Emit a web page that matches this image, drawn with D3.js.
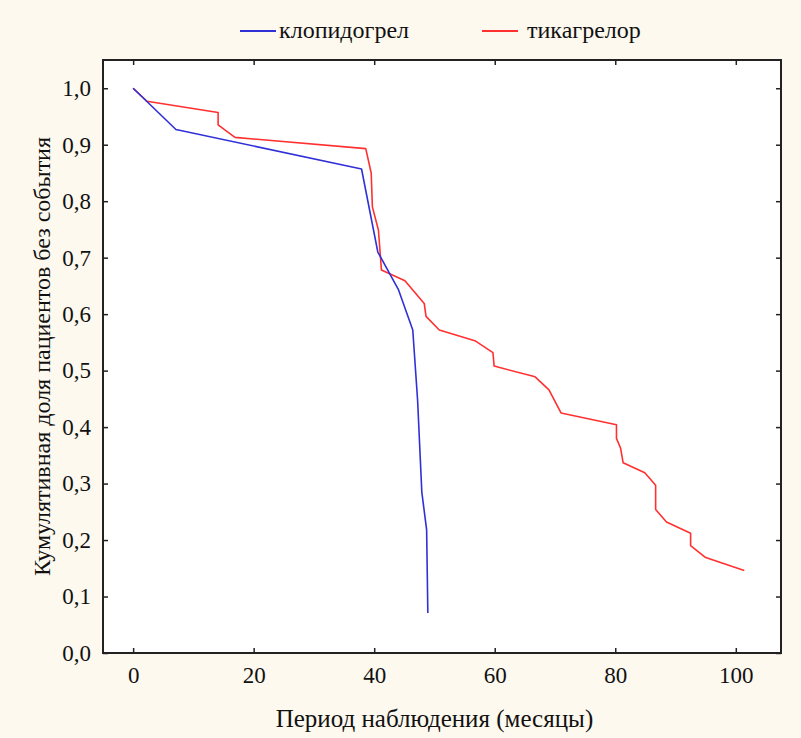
<!DOCTYPE html>
<html>
<head>
<meta charset="utf-8">
<script src="https://cdn.jsdelivr.net/npm/d3@7"></script>
<style>
  body { margin: 0; background: #fdf9ef; }
  svg { display: block; }
  .axis path, .axis line { stroke: #222; }
</style>
</head>
<body>
<div id="chart"></div>
<script>
// series: months, cumulative share without event
const clopMonths = [0, 7.1, 37.9, 40.6, 44.0, 46.4, 47.2, 47.9, 48.7, 48.9];
const clopValues = [1.0, 0.927, 0.857, 0.71, 0.644, 0.572, 0.448, 0.285, 0.218, 0.071];

const ticaMonths = [0, 2.3, 14.1, 14.1, 16.9, 38.6, 39.5, 39.7, 40.7, 41.2, 45.1, 48.3, 48.6, 50.8,
  56.7, 59.7, 59.9, 66.7, 69.0, 71.0, 80.2, 80.2, 80.9, 81.3, 84.9, 86.7, 86.7, 88.5, 92.5, 92.5, 95.0, 101.4];
const ticaValues = [1.0, 0.977, 0.957, 0.935, 0.913, 0.893, 0.850, 0.79, 0.749, 0.678, 0.659, 0.619, 0.596, 0.572,
  0.553, 0.532, 0.508, 0.489, 0.466, 0.425, 0.404, 0.38, 0.362, 0.337, 0.319, 0.297, 0.254, 0.232, 0.212, 0.19, 0.169, 0.146];

const seriesNames = ["клопидогрел", "тикагрелор"];
const seriesColors = ["#3030d8", "#ff3030"];
const xTicks = [0, 20, 40, 60, 80, 100];
const yTicks = [0, 0.1, 0.2, 0.3, 0.4, 0.5, 0.6, 0.7, 0.8, 0.9, 1.0];
const xTitle = "Период наблюдения (месяцы)";
const yTitle = "Кумулятивная доля пациентов без события";

const FONT = '"Liberation Serif", "Times New Roman", "DejaVu Serif", serif';

const W = 801, H = 738;
const margin = {top: 60, right: 20, bottom: 85, left: 103};
const iw = 781 - margin.left, ih = 653 - margin.top;

const svg = d3.select("#chart").append("svg")
    .attr("width", W).attr("height", H)
    .style("font-family", FONT);

const g = svg.append("g").attr("transform", `translate(${margin.left},${margin.top})`);

const x = d3.scaleLinear().domain([-5, 107.5]).range([0, iw]);
const y = d3.scaleLinear().domain([0, 1.05]).range([ih, 0]);

g.append("rect").attr("width", iw).attr("height", ih).attr("fill", "#fff");

const fmtY = v => d3.format(".1f")(v).replace(".", ",");

// axes with inward ticks
g.append("g").attr("class", "axis").attr("transform", `translate(0,${ih})`)
    .call(d3.axisBottom(x).tickValues(xTicks).tickSize(-5).tickPadding(14).tickSizeOuter(0));
g.append("g").attr("class", "axis")
    .call(d3.axisTop(x).tickValues(xTicks).tickSize(-5).tickFormat("").tickSizeOuter(0));
g.append("g").attr("class", "axis")
    .call(d3.axisLeft(y).tickValues(yTicks).tickSize(-5).tickPadding(12).tickFormat(fmtY).tickSizeOuter(0));
g.append("g").attr("class", "axis").attr("transform", `translate(${iw},0)`)
    .call(d3.axisRight(y).tickValues(yTicks).tickSize(-5).tickFormat("").tickSizeOuter(0));

g.selectAll(".axis").attr("font-family", null).attr("font-size", null);
g.selectAll(".axis text").style("font-family", FONT).style("font-size", "23px").attr("fill", "#111");
g.selectAll(".axis path").remove();
g.selectAll(".axis line").attr("stroke-width", 1.5);

g.append("rect").attr("width", iw).attr("height", ih)
    .attr("fill", "none").attr("stroke", "#222").attr("stroke-width", 2);

const line = d3.line().x(d => x(d[0])).y(d => y(d[1]));
const series = [
  d3.zip(clopMonths, clopValues),
  d3.zip(ticaMonths, ticaValues)
];

// draw red first so blue sits on top at the start
[1, 0].forEach(i => {
  g.append("path").datum(series[i])
    .attr("fill", "none")
    .attr("stroke", seriesColors[i])
    .attr("stroke-width", 1.6)
    .attr("stroke-linejoin", "round")
    .attr("d", line);
});

// legend
const legendX = [240, 482];
seriesNames.forEach((name, i) => {
  const lg = svg.append("g").attr("transform", `translate(${legendX[i]},31)`);
  lg.append("line").attr("x1", 0).attr("x2", 36).attr("y1", 0).attr("y2", 0)
    .attr("stroke", seriesColors[i]).attr("stroke-width", 2);
  lg.append("text").attr("x", i === 0 ? 39 : 45).attr("y", 7)
    .style("font-family", FONT).style("font-size", "24px").attr("fill", "#111").text(name);
});

// titles
svg.append("text").attr("x", margin.left + x(50)).attr("y", 727)
    .attr("text-anchor", "middle").style("font-family", FONT).style("font-size", "25px")
    .attr("fill", "#111").text(xTitle);
svg.append("text")
    .attr("transform", `translate(50,${margin.top + ih / 2}) rotate(-90)`)
    .attr("text-anchor", "middle").style("font-family", FONT).style("font-size", "24px")
    .attr("fill", "#111").text(yTitle);
</script>
</body>
</html>
